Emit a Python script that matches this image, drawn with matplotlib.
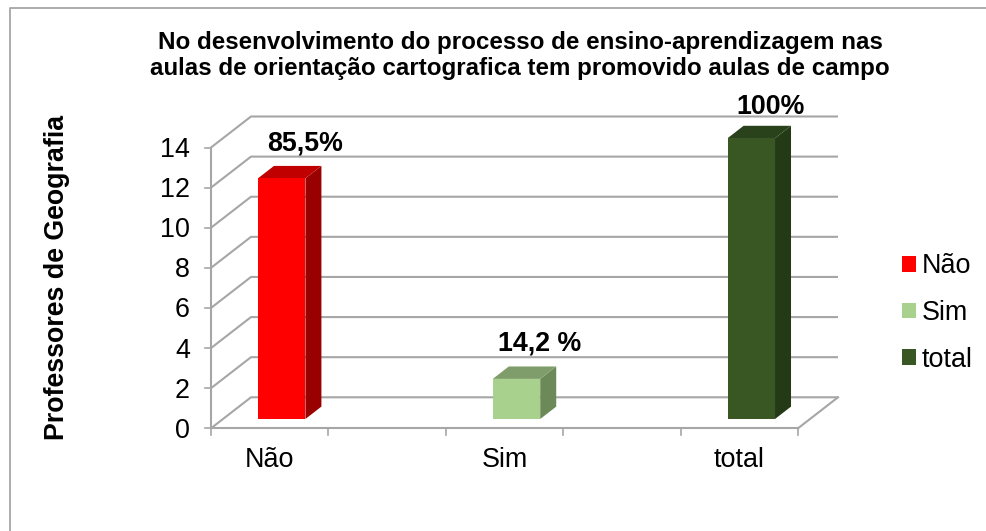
import matplotlib
matplotlib.use("Agg")
import matplotlib.pyplot as plt
from matplotlib.patches import Polygon, Patch
from matplotlib.lines import Line2D

plt.rcParams['font.family'] = ['Liberation Sans', 'DejaVu Sans']

categories = ["Não", "Sim", "total"]
values = [12, 2, 14]
value_labels = ["85,5%", "14,2 %", "100%"]
y_ticks = [0, 2, 4, 6, 8, 10, 12, 14]
title = ("No desenvolvimento do processo de ensino-aprendizagem nas\n"
         "aulas de orientação cartografica tem promovido aulas de campo")
y_title = "Professores de Geografia"
front_colors = ["#FF0000", "#A9D18E", "#385723"]
top_colors = ["#C00000", "#7F9D6B", "#2A421B"]
side_colors = ["#990000", "#6B8A58", "#243A16"]

W, H = 987, 531
GRID = "#A6A6A6"
fig = plt.figure(figsize=(W / 100, H / 100), dpi=100, facecolor="white")

L, R, T, B = 211, 798, 147.5, 428.3
ax = fig.add_axes([L / W, 1 - B / H, (R - L) / W, (B - T) / H])
ax.set_xlim(-0.5, 4.5)
ax.set_ylim(0, 14)
ax.axis("off")

# oblique depth, expressed in data units
DX = 40 / ((R - L) / 5)
DY = 31 / ((B - T) / 14)

def proj(x, y, d):
    return (x + d * DX, y + d * DY)

# walls and gridlines
for v in y_ticks:
    pts = [proj(-0.5, v, 0), proj(-0.5, v, 1), proj(4.5, v, 1)]
    ax.plot(*zip(*pts), color=GRID, lw=1.5, clip_on=False, zorder=1, solid_capstyle="butt")
ax.plot(*zip(proj(4.5, 0, 0), proj(4.5, 0, 1)), color=GRID, lw=1.5, clip_on=False, zorder=1)
ax.plot([-0.5, 4.5], [0, 0], color=GRID, lw=1.5, clip_on=False, zorder=2)
ax.plot([-0.5, -0.5], [0, 14], color=GRID, lw=1.5, clip_on=False, zorder=2)

# axis ticks
y_px = (B - T) / 14
x_px = (R - L) / 5
for v in y_ticks:
    ax.plot([-0.5 - 6 / x_px, -0.5], [v, v], color=GRID, lw=1.2, clip_on=False, zorder=2)
    ax.text(-0.5 - 21 / x_px, v - 2.5 / y_px, str(v), ha="right", va="center", fontsize=19.4, color="black")
for k in range(6):
    t = -0.5 + k
    ax.plot([t, t], [0, -7 / y_px], color=GRID, lw=1.2, clip_on=False, zorder=2)
for i, c in enumerate(categories):
    ax.text(2 * i, -32 / y_px, c, ha="center", va="center", fontsize=19.4, color="black")

# bars
BW = 0.404
D0, D1 = 0.30, 0.70
label_offsets_px = [(7, 22), (7, 23), (3, 19)]
for i, v in enumerate(values):
    x = 2 * i
    a, b = x - BW / 2, x + BW / 2
    front = [proj(a, 0, D0), proj(b, 0, D0), proj(b, v, D0), proj(a, v, D0)]
    side = [proj(b, 0, D0), proj(b, 0, D1), proj(b, v, D1), proj(b, v, D0)]
    top = [proj(a, v, D0), proj(b, v, D0), proj(b, v, D1), proj(a, v, D1)]
    for pts, col in ((side, side_colors[i]), (top, top_colors[i]), (front, front_colors[i])):
        ax.add_patch(Polygon(pts, closed=True, facecolor=col, edgecolor="none", clip_on=False, zorder=3))
    lx, ly = proj(x, v, D1)
    ox, oy = label_offsets_px[i]
    ax.annotate(value_labels[i], (lx, ly), xytext=(ox * 0.72, oy * 0.72), textcoords="offset points",
                ha="center", va="center", fontsize=19.3, fontweight="bold", annotation_clip=False, zorder=4)

fig.text(520 / W, 1 - 55.5 / H, title, ha="center", va="center", fontsize=17.4, fontweight="bold", linespacing=1.13)
fig.text(57.5 / W, 1 - 277.5 / H, y_title, rotation=90, ha="center", va="center", fontsize=19.3, fontweight="bold")

handles = [Patch(facecolor=c, edgecolor="none", label=n) for c, n in zip(front_colors, categories)]
fig.legend(handles=handles, loc="center left", bbox_to_anchor=(902 / W, 1 - 313 / H), frameon=False,
           fontsize=19.4, handlelength=0.52, handleheight=0.52, handletextpad=0.22,
           labelspacing=0.77, borderpad=0, borderaxespad=0)

# outer frame: only the left and top edges fall inside the picture
fig.add_artist(Line2D([9.5 / W, 9.5 / W, 1], [0, 1 - 7.5 / H, 1 - 7.5 / H], transform=fig.transFigure,
                      color="#A6A6A6", lw=1.3))

fig.savefig("out.png", dpi=100)
